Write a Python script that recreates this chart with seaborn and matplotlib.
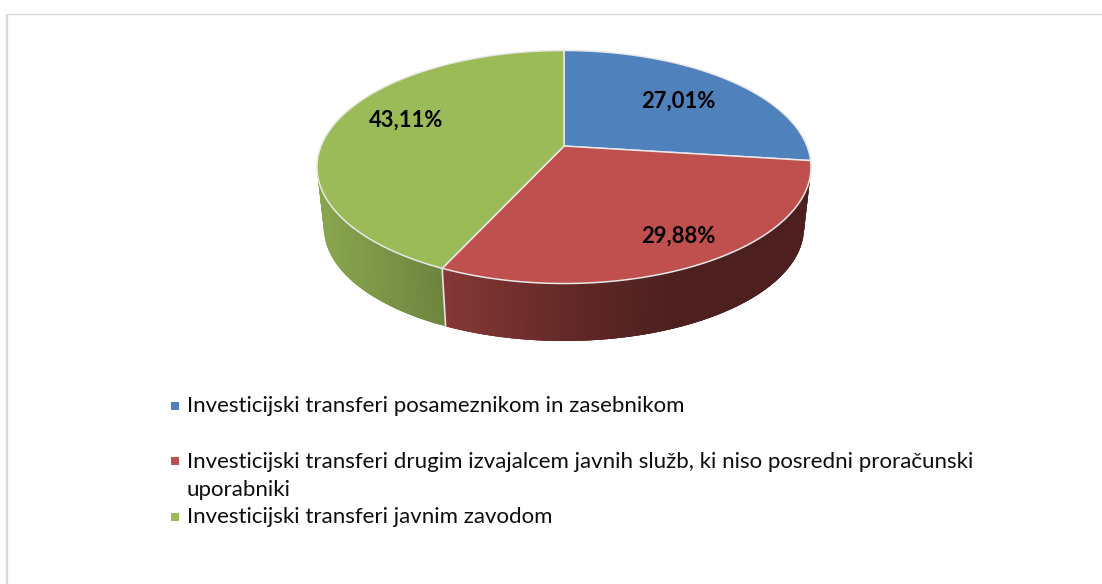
import numpy as np
import matplotlib
matplotlib.use("Agg")
import matplotlib.pyplot as plt
import seaborn as sns

labels = [
    "Investicijski transferi posameznikom in zasebnikom",
    "Investicijski transferi drugim izvajalcem javnih služb, ki niso posredni proračunski\nuporabniki",
    "Investicijski transferi javnim zavodom",
]
values = [27.01, 29.88, 43.11]
value_labels = ["27,01%", "29,88%", "43,11%"]
colors = ["#4F81BD", "#C0504D", "#9BBB59"]

sns.set_theme(style="white")
plt.rcParams["font.family"] = ["Lato", "DejaVu Sans"]

W, H = 1102, 584
fig = plt.figure(figsize=(W / 100, H / 100), dpi=100, facecolor="white")
ax = fig.add_axes([0, 0, 1, 1])
ax.set_xlim(0, W)
ax.set_ylim(H, 0)
ax.axis("off")

A = 0.18  # perspective shift of the pie centre


def project(theta, cx, cy, rx, ry):
    """theta: clockwise from 12 o'clock (radians) -> perspective point."""
    x, y = np.sin(theta), np.cos(theta)
    d = 1 + A * y
    return cx + rx * x * np.sqrt(1 - A**2) / d, cy - ry * (y + A) / d


TOP = (564, 167, 247, 116.5)
BOT = (564, 228, 240, 113)
edges = np.concatenate([[0], np.cumsum(values)]) / np.sum(values) * 2 * np.pi


def shade(x):
    return np.interp(x, [325, 440, 590, 680], [0.88, 0.71, 0.50, 0.40])


# side wall: overlapping strips so no seams show
for i, col in enumerate(colors):
    base = np.array(matplotlib.colors.to_rgb(col))
    n = max(8, int((edges[i + 1] - edges[i]) * 60))
    th = np.linspace(edges[i], edges[i + 1], n)
    tx, ty = project(th, *TOP)
    bx, by = project(th, *BOT)
    front = np.cos(th) + A < 0
    for j in range(n - 1):
        if front[j] or front[j + 1]:
            k = min(j + 3, n - 1)
            c = base * shade((tx[j] + tx[j + 1]) / 2)
            ax.fill([tx[j], tx[k], bx[k], bx[j]],
                    [ty[j], ty[k], by[k], by[j]],
                    facecolor=c, edgecolor="none", lw=0, zorder=1 + (j / n if i == 2 else -j / n) * 0.5)

# wall separator between red and green
sx, sy = project(edges[2], *TOP)
ex, ey = project(edges[2], *BOT)
ax.plot([sx, ex], [sy, ey], color="#e4e4e4", lw=1.2, zorder=2)

# top face
apex_x = 564
apex_y = 167 - 116.5 * A
for i, col in enumerate(colors):
    th = np.linspace(edges[i], edges[i + 1], 240)
    px, py = project(th, *TOP)
    ax.fill(np.r_[apex_x, px], np.r_[apex_y, py], facecolor=col,
            edgecolor="#e8e8e8", lw=1.1, joinstyle="round", zorder=3)

# value labels
for txt, (x, y) in zip(value_labels, [(678, 108), (678, 243), (406, 127)]):
    ax.text(x, y, txt, ha="center", va="baseline", fontsize=15.8,
            fontweight="bold", color="black", zorder=4)

# legend
marker_y = [405.5, 461, 517]
text_y = [412, 468, 523]
for lab, col, my, ty in zip(labels, colors, marker_y, text_y):
    ax.scatter([175], [my], marker="s", s=30, color=col, linewidths=0, zorder=4)
    for k, line in enumerate(lab.split("\n")):
        ax.text(187, ty + 28 * k, line, ha="left", va="baseline", fontsize=16,
                color="#0d0d0d")

# frame
ax.plot([7, 7], [H, 14], color="#d9d9d9", lw=1.6, zorder=0, solid_capstyle="butt")
ax.plot([7, W], [14, 14], color="#d9d9d9", lw=1.0, zorder=0, solid_capstyle="butt")

fig.savefig("out.png", dpi=100, facecolor="white")
